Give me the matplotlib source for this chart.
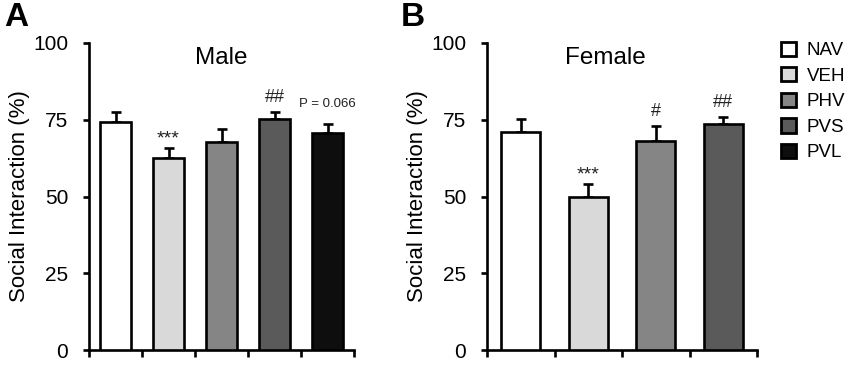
import numpy as np
import matplotlib.pyplot as plt
from matplotlib.patches import Patch

plt.rcParams['font.family'] = ['Liberation Sans', 'DejaVu Sans']

# ============================================================
# data
# ============================================================
groups = ["NAV", "VEH", "PHV", "PVS", "PVL"]
colors = ["#ffffff", "#d9d9d9", "#858585", "#5a5a5a", "#0e0e0e"]

male_mean = [74.4, 62.4, 67.6, 75.2, 70.6]
male_err = [3.2, 3.3, 4.3, 2.4, 2.9]
male_marks = ["", "***", "", "##", "P = 0.066"]

female_mean = [71.1, 49.9, 68.2, 73.5]
female_err = [4.1, 4.2, 4.8, 2.3]
female_marks = ["", "***", "#", "##"]

yticks = [0, 25, 50, 75, 100]

# ============================================================
# figure
# ============================================================
fig = plt.figure(figsize=(8.5, 3.65), dpi=100)

axA = fig.add_axes([89/850, 15/365, 265/850, 307/365])
axB = fig.add_axes([487/850, 15/365, 270/850, 307/365])

LW = 1.9


def draw_panel(ax, means, errs, marks, width, title, title_x):
    n = len(means)
    x = np.arange(n)
    ax.bar(x, means, width=width, color=colors[:n],
           edgecolor="black", linewidth=LW, zorder=3)
    ax.errorbar(x, means, yerr=[np.zeros(n), errs], fmt="none",
                ecolor="black", elinewidth=LW, capsize=3.8,
                capthick=LW, zorder=2)

    for xi, m, e, lab in zip(x, means, errs, marks):
        if not lab:
            continue
        if lab.startswith("P"):
            ax.text(xi, m + e + 6.5, lab, ha="center", va="center",
                    fontsize=9.5, color="#222222")
        elif lab.startswith("*"):
            ax.text(xi, m + e + 3.0, lab, ha="center", va="center",
                    fontsize=14, color="#222222")
        else:
            ax.text(xi, m + e + 4.7, lab, ha="center", va="center",
                    fontsize=13, color="#222222")

    ax.set_xlim(-0.5, n - 0.5)
    ax.set_ylim(0, 100)
    ax.set_yticks(yticks)
    ax.set_xticks(np.arange(n + 1) - 0.5)
    ax.set_xticklabels([])

    for s in ["top", "right"]:
        ax.spines[s].set_visible(False)
    for s in ["left", "bottom"]:
        ax.spines[s].set_linewidth(LW)

    ax.tick_params(axis="y", direction="out", length=4, width=LW,
                   labelsize=15, pad=11)
    ax.tick_params(axis="x", direction="out", length=5, width=LW)

    ax.set_ylabel("Social Interaction (%)", fontsize=16, labelpad=2)
    ax.text(title_x, 95, title, ha="center", va="center", fontsize=17.5)


draw_panel(axA, male_mean, male_err, male_marks, 0.6, "Male", 2.0)
draw_panel(axB, female_mean, female_err, female_marks, 0.58, "Female", 1.25)

# panel letters
fig.text(4/850, 1 - 17/365, "A", fontsize=24, fontweight="bold",
         va="center", ha="left")
fig.text(401/850, 1 - 17/365, "B", fontsize=24, fontweight="bold",
         va="center", ha="left")

# legend
handles = [Patch(facecolor=c, edgecolor="black", linewidth=2.0, label=g)
           for g, c in zip(groups, colors)]
fig.legend(handles=handles, loc="upper left",
           bbox_to_anchor=(773/850, 1 - 34/365), frameon=False,
           fontsize=13.5, handlelength=0.8, handleheight=0.8,
           handletextpad=0.6, labelspacing=0.42, borderaxespad=0)

plt.savefig("out.png", dpi=100)
